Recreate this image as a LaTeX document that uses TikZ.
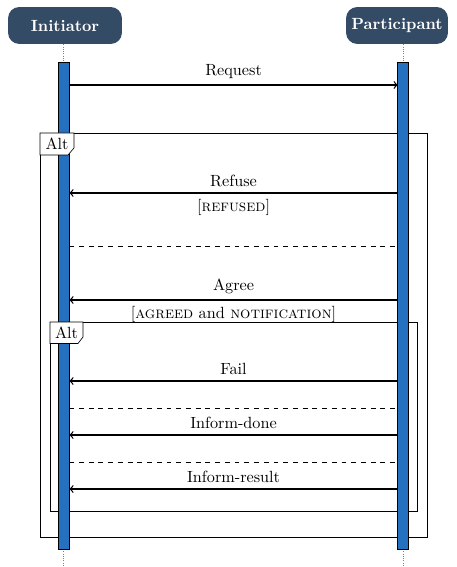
\documentclass[tikz,border=0pt]{standalone}
\usetikzlibrary{positioning}
\definecolor{headblue}{RGB}{52,75,101}
\definecolor{barblue}{RGB}{38,112,192}
\tikzset{
  actor/.style={fill=headblue, text=white, font=\bfseries, rounded corners=7pt,
    minimum height=22.8pt, inner sep=0pt},
  bar/.style={draw=black, fill=barblue, semithick},
  life/.style={densely dotted, gray},
  msg/.style={->, thick},
  altbox/.style={draw, thin},
  alttab/.style={draw, thin, fill=white},
}
\begin{document}
\begin{tikzpicture}[x=0.617pt, y=-0.617pt]
\useasboundingbox (0,0) rectangle (456,567);

% participants
\node[actor, minimum width=70.3pt] (init) at (65,25.5) {Initiator};
\node[actor, minimum width=62.9pt] (part) at (397,25.5) {Participant};

% lifelines
\coordinate (itop) at (63.8,62);
\coordinate (ptop) at (403.5,62);
\coordinate (ibot) at (63.8,549);
\coordinate (pbot) at (403.5,549);
\coordinate (iend) at (63.8,567);
\coordinate (pend) at (403.5,567);
\draw[life] (init.south -| itop) -- (itop);
\draw[life] (part.south -| ptop) -- (ptop);
\draw[life] (ibot) -- (iend);
\draw[life] (pbot) -- (pend);

% alt frames
\draw[altbox] (40,133) rectangle (427,537);
\draw[altbox] (50,322) rectangle (417.5,511);

% activations
\draw[bar] (58.3,62) rectangle (69.3,549);
\draw[bar] (397.8,62) rectangle (408.8,549);

% alt tabs
\draw[alttab] (40,133) -- (74,133) -- (74,148) -- (68,155) -- (40,155) -- cycle;
\node (alt1) at (57,144) {Alt};
\draw[alttab] (50,322) -- (83,322) -- (83,337) -- (78,343.5) -- (50,343.5) -- cycle;
\node (alt2) at (66.5,333) {Alt};

% messages
\coordinate (i1) at (69.3,85);   \coordinate (p1) at (397.8,85);
\coordinate (i2) at (69.3,193);  \coordinate (p2) at (397.8,193);
\coordinate (i3) at (69.3,246);  \coordinate (p3) at (397.8,246);
\coordinate (i4) at (69.3,300);  \coordinate (p4) at (397.8,300);
\coordinate (i5) at (69.3,381);  \coordinate (p5) at (397.8,381);
\coordinate (i6) at (69.3,408);  \coordinate (p6) at (397.8,408);
\coordinate (i7) at (69.3,435);  \coordinate (p7) at (397.8,435);
\coordinate (i8) at (69.3,462);  \coordinate (p8) at (397.8,462);
\coordinate (i9) at (69.3,489);  \coordinate (p9) at (397.8,489);

\draw[msg] (i1) -- node[above] (request) {Request} (p1);
\draw[msg] (p2) -- node[above] (refuse) {Refuse} node[below] (refused) {[\textsc{refused}]} (i2);
\draw[dashed] (i3) -- (p3);
\draw[msg] (p4) -- node[above] (agree) {Agree}
  node[below] (agreed) {[\textsc{agreed} and \textsc{notification}]} (i4);
\draw[msg] (p5) -- node[above] (fail) {Fail} (i5);
\draw[dashed] (i6) -- (p6);
\draw[msg] (p7) -- node[above] (done) {Inform-done} (i7);
\draw[dashed] (i8) -- (p8);
\draw[msg] (p9) -- node[above] (result) {Inform-result} (i9);
\end{tikzpicture}
\end{document}
